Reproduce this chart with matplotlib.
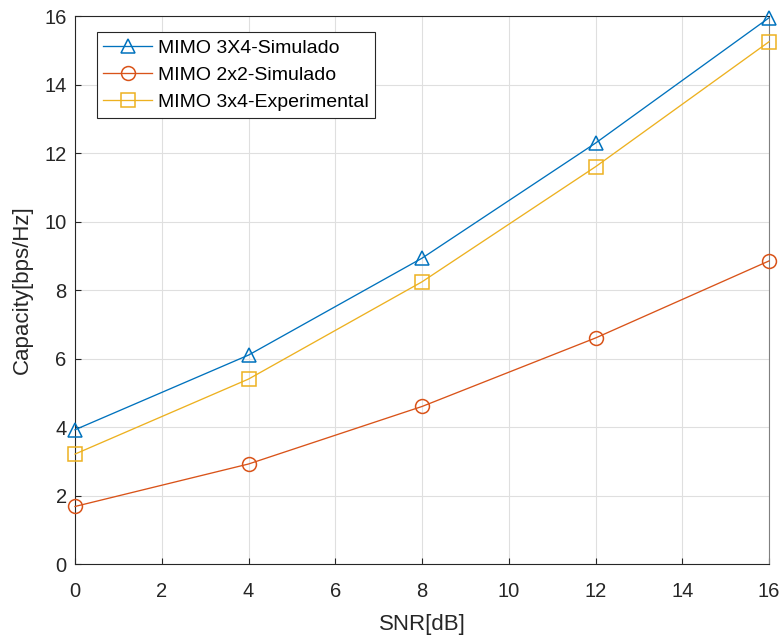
import numpy as np
import matplotlib
matplotlib.use('Agg')
import matplotlib.pyplot as plt

plt.rcParams['font.family'] = ['Liberation Sans', 'DejaVu Sans']

# SNR em dB e capacidade em bps/Hz
snr = [0, 4, 8, 12, 16]
cap_3x4_sim = [3.92, 6.1, 8.93, 12.29, 15.95]
cap_2x2_sim = [1.68, 2.92, 4.6, 6.6, 8.85]
cap_3x4_exp = [3.21, 5.4, 8.24, 11.6, 15.25]

labels = ['MIMO 3X4-Simulado', 'MIMO 2x2-Simulado', 'MIMO 3x4-Experimental']
cores = ['#0072BD', '#D95319', '#EDB120']
marcadores = ['^', 'o', 's']

fig = plt.figure(figsize=(7.84, 6.35), dpi=100)
ax = fig.add_axes([0.0957, 0.1118, 0.8853, 0.8630])

for y, lab, c, m in zip([cap_3x4_sim, cap_2x2_sim, cap_3x4_exp], labels, cores, marcadores):
    ax.plot(snr, y, color=c, marker=m, markersize=10, markerfacecolor='none',
            markeredgecolor=c, markeredgewidth=1.1, linewidth=0.95, label=lab,
            clip_on=False, zorder=3)

ax.set_xlim(0, 16)
ax.set_ylim(0, 16)
ax.set_xticks(np.arange(0, 17, 2))
ax.set_yticks(np.arange(0, 17, 2))
ax.grid(True, color='#dfdfdf', linewidth=0.8)
ax.set_axisbelow(True)
ax.tick_params(direction='in', length=4, width=0.8, labelsize=14.5, colors='#262626',
               top=False, right=False)
ax.tick_params(axis='x', pad=13)
ax.tick_params(axis='y', pad=6)
for s in ['left', 'bottom', 'top']:
    ax.spines[s].set_color('#262626')
    ax.spines[s].set_linewidth(0.8)
ax.spines['right'].set_color('#808080')
ax.spines['right'].set_linewidth(0.8)

ax.set_xlabel('SNR[dB]', fontsize=16, color='#262626', labelpad=9)
ax.set_ylabel('Capacity[bps/Hz]', fontsize=16, color='#262626', labelpad=8)

leg = ax.legend(loc='upper left', bbox_to_anchor=(0.031, 0.97), fontsize=14,
                frameon=True, fancybox=False, edgecolor='#262626', framealpha=1,
                handlelength=2.5, handletextpad=0.3, borderpad=0.35, labelspacing=0.48,
                borderaxespad=0)
leg.get_frame().set_linewidth(0.8)

fig.savefig('out.png', dpi=100)
